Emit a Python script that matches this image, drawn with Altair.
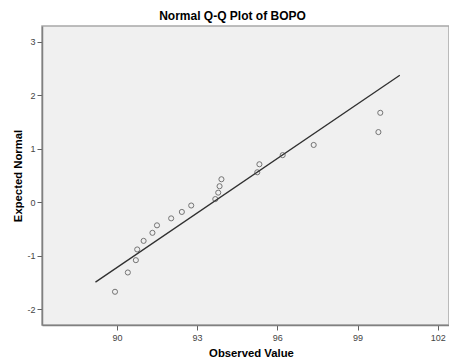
import altair as alt
import pandas as pd

observed = [89.93, 90.41, 90.71, 90.76, 91.00, 91.33, 91.50, 92.03, 92.43, 92.78,
            93.68, 93.79, 93.84, 93.91, 95.25, 95.33, 96.20, 97.36, 99.78, 99.85]
expected = [-1.67, -1.31, -1.08, -0.88, -0.72, -0.57, -0.43, -0.30, -0.18, -0.06,
            0.06, 0.18, 0.30, 0.43, 0.56, 0.71, 0.88, 1.07, 1.31, 1.67]
line_x = [89.20, 100.58]
line_y = [-1.49, 2.37]
x_ticks = [90, 93, 96, 99, 102]
y_ticks = [-2, -1, 0, 1, 2, 3]

pts = pd.DataFrame({"x": observed, "y": expected})
ln = pd.DataFrame({"x": line_x, "y": line_y})

FONT = "Liberation Sans"
xscale = alt.Scale(domain=[87.2, 102.42], nice=False, zero=False)
yscale = alt.Scale(domain=[-2.29, 3.29], nice=False, zero=False)

LABEL_EXPR = "replace(format(datum.value, 'd'), '\u2212', '-')"

xaxis = alt.Axis(values=x_ticks, title="Observed Value", grid=False,
                 labelExpr=LABEL_EXPR,
                 domainColor="#808080", domainWidth=1.5, tickColor="#606060",
                 tickSize=5, labelFontSize=9, labelColor="#444444", labelFont=FONT,
                 labelPadding=3, titleFont=FONT, titleFontSize=11.3, titleFontWeight="bold",
                 titleColor="#000000", titleX=209, titleY=28, titleBaseline="middle")
yaxis = alt.Axis(values=y_ticks, title="Expected Normal", grid=False,
                 labelExpr=LABEL_EXPR,
                 domainColor="#808080", domainWidth=1.5, tickColor="#606060",
                 tickSize=5, labelFontSize=9, labelColor="#444444", labelFont=FONT,
                 labelPadding=2, titleFont=FONT, titleFontSize=11.3, titleFontWeight="bold",
                 titleColor="#000000", titleX=-24, titleBaseline="middle")

points = alt.Chart(pts).mark_point(shape="circle", filled=False, size=26,
                                   color="#404040", strokeWidth=1).encode(
    x=alt.X("x:Q", scale=xscale, axis=xaxis),
    y=alt.Y("y:Q", scale=yscale, axis=yaxis),
)
line = alt.Chart(ln).mark_line(color="#303030", strokeWidth=1.3).encode(
    x=alt.X("x:Q", scale=xscale),
    y=alt.Y("y:Q", scale=yscale),
)

chart = alt.layer(line, points).properties(
    width=407, height=299,
    title=alt.TitleParams("Normal Q-Q Plot of BOPO", font=FONT, fontSize=12,
                          fontWeight="bold", color="#000000", dx=-13, offset=3),
    padding={"left": 42, "top": 26, "right": 0, "bottom": 36},
    autosize=alt.AutoSizeParams(type="none"),
    background="#ffffff",
).configure_view(fill="#f0f0f0", stroke="#a8a8a8", strokeWidth=1.5)

chart.save("out.html", embed_options={"renderer": "svg", "actions": False})
